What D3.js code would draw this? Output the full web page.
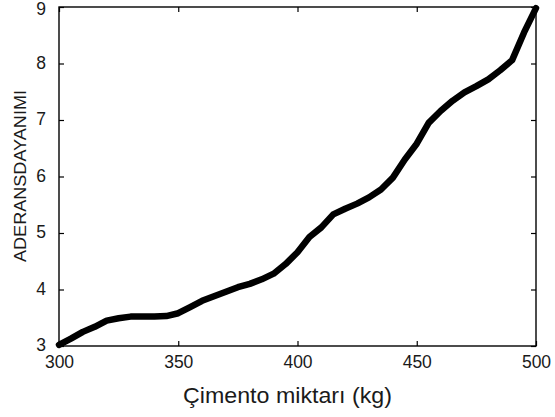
<!DOCTYPE html>
<html><head><meta charset="utf-8">
<script src="https://cdn.jsdelivr.net/npm/d3@7"></script>
<style>body{margin:0;background:#fff}text{font-family:"Liberation Sans",Arial,sans-serif;fill:#1a1a1a}</style>
</head><body><svg id="c" width="555" height="417"></svg>
<script>
const cement = [300,305,310,315,320,325,330,335,340,345,350,355,360,365,370,375,380,385,390,395,400,405,410,415,420,425,430,435,440,445,450,455,460,465,470,475,480,485,490,495,500];
const strength = [3.02,3.13,3.25,3.34,3.45,3.49,3.52,3.52,3.52,3.53,3.58,3.69,3.80,3.88,3.96,4.04,4.10,4.18,4.28,4.45,4.66,4.93,5.10,5.33,5.43,5.52,5.63,5.77,5.98,6.30,6.58,6.95,7.16,7.34,7.49,7.60,7.72,7.88,8.06,8.55,8.98];
const xTicks = [300,350,400,450,500];
const yTicks = [3,4,5,6,7,8,9];
const xTitle = "Çimento miktarı (kg)";
const yTitle = "ADERANSDAYANIMI";

const svg = d3.select("#c");
const L=59,R=536,T=7,B=346;
const x = d3.scaleLinear().domain([300,500]).range([L,R]);
const y = d3.scaleLinear().domain([3,9]).range([B,T]);
const fmt = d3.format("d");
const FF = '"Liberation Sans",Arial,sans-serif';

// frame
svg.append("rect").attr("x",L).attr("y",T).attr("width",R-L).attr("height",B-T)
  .attr("fill","none").attr("stroke","#000").attr("stroke-width",1.4);

// axes with inward ticks
const tk = 5;
svg.append("g").attr("transform",`translate(0,${B})`)
  .call(d3.axisBottom(x).tickValues(xTicks).tickFormat(fmt).tickSizeInner(-tk).tickSizeOuter(0).tickPadding(10))
  .call(g=>{g.select(".domain").remove();g.selectAll("line").attr("stroke","#000").attr("stroke-width",1.2);
    g.selectAll("text").attr("font-size",17.5).attr("font-family",FF).attr("fill","#1a1a1a");});
svg.append("g").attr("transform",`translate(0,${T})`)
  .call(d3.axisTop(x).tickValues(xTicks).tickSizeInner(-tk).tickSizeOuter(0).tickFormat(""))
  .call(g=>{g.select(".domain").remove();g.selectAll("line").attr("stroke","#000").attr("stroke-width",1.2);});
svg.append("g").attr("transform",`translate(${L},0)`)
  .call(d3.axisLeft(y).tickValues(yTicks).tickFormat(fmt).tickSizeInner(-tk).tickSizeOuter(0).tickPadding(13))
  .call(g=>{g.select(".domain").remove();g.selectAll("line").attr("stroke","#000").attr("stroke-width",1.2);
    g.selectAll("text").attr("font-size",17.5).attr("font-family",FF).attr("fill","#1a1a1a")
      .attr("dy", d => d===9 ? "0.42em" : "0.28em");});
svg.append("g").attr("transform",`translate(${R},0)`)
  .call(d3.axisRight(y).tickValues(yTicks).tickSizeInner(-tk).tickSizeOuter(0).tickFormat(""))
  .call(g=>{g.select(".domain").remove();g.selectAll("line").attr("stroke","#000").attr("stroke-width",1.2);});

// line
const data = cement.map((c,i)=>({c, s:strength[i]}));
svg.append("path").datum(data)
  .attr("d", d3.line().x(d=>x(d.c)).y(d=>y(d.s)))
  .attr("fill","none").attr("stroke","#000").attr("stroke-width",6.5)
  .attr("stroke-linejoin","round").attr("stroke-linecap","round");

// titles
svg.append("text").attr("x",(183+392)/2).attr("y",403).attr("text-anchor","middle")
  .attr("font-size",22).attr("textLength",209).attr("lengthAdjust","spacingAndGlyphs").text(xTitle);
svg.append("text").attr("transform",`translate(26,176) rotate(-90)`).attr("text-anchor","middle")
  .attr("font-size",17).attr("textLength",172).attr("lengthAdjust","spacingAndGlyphs").text(yTitle);
</script></body></html>
